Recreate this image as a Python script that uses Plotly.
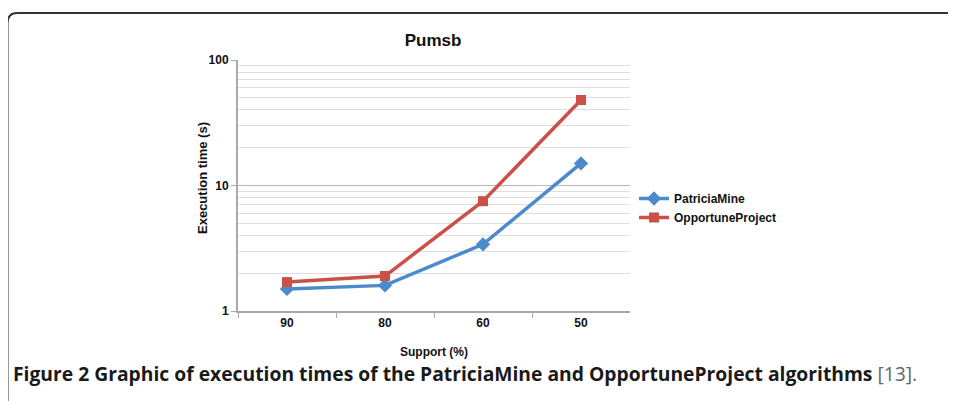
import plotly.graph_objects as go

# The page body has an 8px margin, so the figure is offset by 8px.
OFF = 8
W, H = 956 - OFF, 401 - OFF

categories = ["90", "80", "60", "50"]
patricia = [1.5, 1.6, 3.4, 15]
opportune = [1.7, 1.9, 7.5, 48]
y_ticks = [1, 10, 100]
y_minor = [2, 3, 4, 5, 6, 7, 8, 9, 20, 30, 40, 50, 60, 70, 80, 90]

def px(x):
    return (x - OFF) / W

def py(y):
    return 1 - (y - OFF) / H

fig = go.Figure()
fig.add_trace(go.Scatter(
    x=categories, y=patricia, name="PatriciaMine", mode="lines+markers",
    line=dict(color="#4b8bcb", width=3.5),
    marker=dict(symbol="diamond", size=11, color="#4b8bcb"),
))
fig.add_trace(go.Scatter(
    x=categories, y=opportune, name="OpportuneProject", mode="lines+markers",
    line=dict(color="#cb5148", width=3.5),
    marker=dict(symbol="square", size=10, color="#cb5148"),
))

axis_font = dict(family="Liberation Sans, Arial", size=12, color="#111", weight="bold")

fig.update_layout(
    width=W, height=H,
    margin=dict(l=0, r=0, t=0, b=0),
    paper_bgcolor="white", plot_bgcolor="white",
    showlegend=True,
    legend=dict(x=px(634), y=py(208), xanchor="left", yanchor="middle",
                font=dict(family="Liberation Sans, Arial", size=12, color="#111", weight="bold"),
                bgcolor="rgba(0,0,0,0)", itemwidth=30, tracegroupgap=0),
    xaxis=dict(
        domain=[px(238), px(630)], type="category", range=[-0.5, 3.5],
        tickson="boundaries", ticks="outside", ticklen=5, tickcolor="#aaa",
        showline=True, linecolor="#aaa", linewidth=2, showgrid=False,
        tickfont=axis_font, automargin=False, fixedrange=True,
        title=dict(text="Support (%)", font=axis_font, standoff=18),
    ),
    yaxis=dict(
        domain=[py(311), py(60)], type="log", range=[0, 2],
        tickvals=y_ticks, ticktext=[str(v) for v in y_ticks],
        ticks="outside", ticklen=5, tickcolor="#aaa",
        showline=True, linecolor="#aaa", linewidth=2,
        showgrid=True, gridcolor="#b8b8b8", gridwidth=1.2,
        minor=dict(tickvals=y_minor, showgrid=True, gridcolor="#dedede", gridwidth=1, ticks=""),
        tickfont=axis_font, automargin=False, fixedrange=True,
        zeroline=False,
    ),
    title=dict(text="Pumsb", x=px(433), y=py(40), xanchor="center", yanchor="middle",
               font=dict(family="Liberation Sans, Arial", size=17, color="#111", weight="bold")),
)

# y axis title
fig.add_annotation(
    text="Execution time (s)", textangle=-90, xref="paper", yref="paper",
    x=px(202), y=py(178), xanchor="center", yanchor="middle", showarrow=False,
    font=dict(family="Liberation Sans, Arial", size=13, color="#111", weight="bold"),
)

# frame with rounded top-left corner
r = 10
top, left = 13, 7.5
path = (f"M {px(left)},{py(H + OFF + 5)} L {px(left)},{py(top + r)} "
        f"Q {px(left)},{py(top)} {px(left + r)},{py(top)} L {px(W + OFF + 5)},{py(top)}")
fig.add_shape(type="path", path=path, xref="paper", yref="paper",
              line=dict(color="#333", width=2))

fig.add_annotation(
    text="<b>Figure 2 Graphic of execution times of the PatriciaMine and OpportuneProject algorithms</b>"
         " <span style='color:#666'>[13].</span>",
    xref="paper", yref="paper", x=px(11), y=py(373), xanchor="left", yanchor="middle",
    showarrow=False, font=dict(family="Open Sans", size=19.3, color="#1a1a1a"),
)

fig.write_html("out.html")
